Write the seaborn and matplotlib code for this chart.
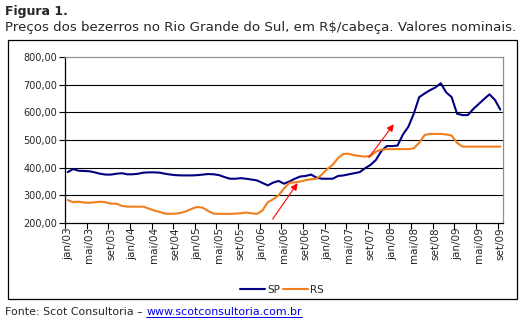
import matplotlib
matplotlib.use("Agg")
import matplotlib.pyplot as plt
from matplotlib.patches import Rectangle
from matplotlib.lines import Line2D
from matplotlib.ticker import FuncFormatter, FixedLocator
import numpy as np
import pandas as pd
import seaborn as sns

# Monthly calf prices (R$/head), jan/03 .. set/09
sp = [384, 395, 389, 388, 387, 383, 378, 375, 375, 378, 380, 376, 376, 378, 382, 383,
      383, 382, 378, 375, 373, 372, 372, 372, 373, 375, 377, 376, 373, 366, 360, 360,
      362, 360, 357, 354, 345, 336, 346, 352, 342, 350, 360, 368, 370, 375, 364, 360,
      360, 360, 370, 372, 376, 380, 384, 398, 410, 428, 460, 478, 478, 480, 520, 548,
      595, 655, 668, 680, 690, 705, 672, 655, 595, 590, 590, 612, 630, 648, 665, 645, 610]
rs = [283, 275, 277, 274, 273, 275, 277, 275, 270, 270, 262, 259, 259, 259, 259, 252,
      245, 240, 234, 233, 234, 237, 243, 252, 258, 255, 243, 234, 233, 233, 233, 234,
      235, 238, 235, 233, 245, 275, 286, 300, 325, 345, 347, 350, 355, 358, 360, 375,
      395, 410, 435, 450, 450, 445, 442, 440, 443, 458, 465, 467, 467, 467, 467, 467,
      470, 490, 518, 522, 522, 522, 520, 516, 490, 476, 476, 476, 476, 476, 476, 476, 476]
series_names = ["SP", "RS"]
series_colors = ["#000080", "#F07E1A"]
x_labels = ["jan/03", "mai/03", "set/03", "jan/04", "mai/04", "set/04", "jan/05",
            "mai/05", "set/05", "jan/06", "mai/06", "set/06", "jan/07", "mai/07",
            "set/07", "jan/08", "mai/08", "set/08", "jan/09", "mai/09", "set/09"]
y_ticks = [200, 300, 400, 500, 600, 700, 800]
# Red trend arrows: (tail month, tail value) -> (tip month, tip value)
arrows = [((37.9, 214), (42.5, 344)), ((55.7, 437), (60.3, 557))]

months = np.arange(len(sp))
df = pd.DataFrame({
    "mes": np.concatenate([months, months]),
    "preco": sp + rs,
    "serie": ["SP"] * len(sp) + ["RS"] * len(rs),
})

sns.set_style("white")
plt.rcParams["font.family"] = ["DejaVu Sans"]

fig = plt.figure(figsize=(5.24, 3.24), dpi=100)
ax = fig.add_axes([65 / 524, 1 - 223 / 324, (503 - 65) / 524, (223 - 57) / 324])

sns.lineplot(data=df, x="mes", y="preco", hue="serie", hue_order=series_names,
             palette=series_colors, linewidth=1.5, ax=ax, legend=False)

ax.set_xlim(-0.5, len(sp) - 0.5)
ax.set_ylim(200, 800)
ax.set_xlabel("")
ax.set_ylabel("")

# y axis
ax.set_yticks(y_ticks)
ax.yaxis.set_major_formatter(FuncFormatter(lambda v, p: f"{v:.2f}".replace(".", ",")))
ax.tick_params(axis="y", length=4, width=0.8, color="black", labelsize=7, pad=1.5,
               left=True, direction="out")
for v in y_ticks[1:-1]:
    ax.axhline(v, color="black", linewidth=0.8, zorder=0)

# x axis: labels at category centres, tick marks between categories
label_pos = list(range(0, len(sp), 4))
ax.xaxis.set_major_locator(FixedLocator(label_pos))
ax.set_xticklabels(x_labels, rotation=90, fontsize=7.5)
ax.xaxis.set_minor_locator(FixedLocator([p - 0.5 for p in label_pos]))
ax.tick_params(axis="x", which="major", length=0, pad=3)
ax.tick_params(axis="x", which="minor", length=4, width=0.8, color="black",
               bottom=True, direction="out")

for side in ["left", "bottom"]:
    ax.spines[side].set_color("black")
    ax.spines[side].set_linewidth(0.9)
for side in ["top", "right"]:
    ax.spines[side].set_visible(True)
    ax.spines[side].set_color("#909090")
    ax.spines[side].set_linewidth(0.9)

for (tail, tip) in arrows:
    ax.annotate("", xy=tip, xytext=tail,
                arrowprops=dict(arrowstyle="-|>", color="red", lw=0.8,
                                mutation_scale=10, shrinkA=0, shrinkB=0))

handles = [Line2D([0], [0], color=c, lw=1.5) for c in series_colors]
fig.legend(handles, series_names, loc="center", bbox_to_anchor=(282 / 524, 1 - 290 / 324),
           ncol=2, frameon=False, fontsize=7.5, handlelength=2.4, handletextpad=0.2,
           columnspacing=0.3)

# chart frame
fig.patches.append(Rectangle((8 / 524, 1 - 299 / 324), 509 / 524, 259 / 324,
                             transform=fig.transFigure, fill=False,
                             edgecolor="black", linewidth=0.9))

fig.text(5 / 524, 1 - 11 / 324, "Figura 1.", fontsize=9, fontweight="bold", va="center")
fig.text(5 / 524, 1 - 27 / 324,
         "Preços dos bezerros no Rio Grande do Sul, em R$/cabeça. Valores nominais.",
         fontsize=9.6, va="center")
t1 = fig.text(5 / 524, 1 - 312 / 324, "Fonte: Scot Consultoria – ", fontsize=7.9, va="center")
fig.canvas.draw()
bb = t1.get_window_extent()
x_url = bb.x1 / fig.bbox.width
url = fig.text(x_url, 1 - 312 / 324, "www.scotconsultoria.com.br", fontsize=7.9,
               va="center", color="#0000EE")
# underline for the link
fig.canvas.draw()
ub = url.get_window_extent()
fig.add_artist(Line2D([ub.x0 / fig.bbox.width, ub.x1 / fig.bbox.width],
                      [(ub.y0 + 0.5) / fig.bbox.height] * 2,
                      transform=fig.transFigure, color="#0000EE", lw=0.7))

fig.savefig("out.png", dpi=100, facecolor="white")
